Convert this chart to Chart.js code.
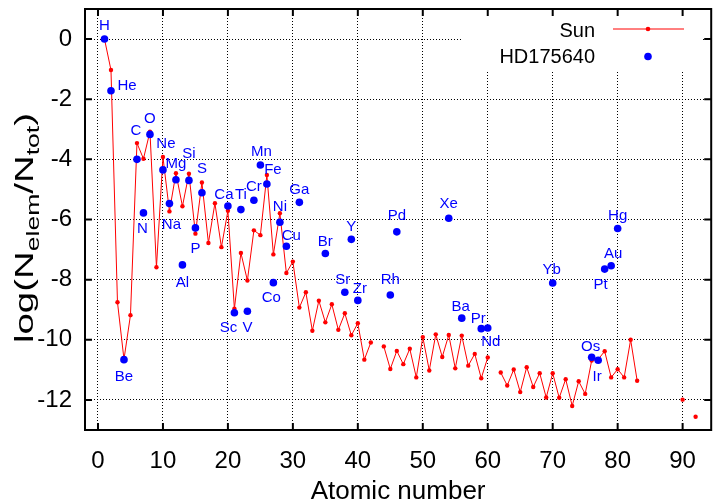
<!DOCTYPE html>
<html>
<head>
<meta charset="utf-8">
<script src="https://cdn.jsdelivr.net/npm/chart.js@4.4.1/dist/chart.umd.min.js"></script>
<style>
html,body{margin:0;padding:0;background:#fff;}
canvas{display:block;}
</style>
</head>
<body>
<canvas id="c" width="715" height="501"></canvas>
<script>
// ---- data ----
const sunZ = [1,2,3,4,5,6,7,8,9,10,11,12,13,14,15,16,17,18,19,20,21,22,23,24,25,26,27,28,29,30,
  31,32,33,34,35,36,37,38,39,40,41,42,43,44,45,46,47,48,49,50,51,52,53,54,55,56,57,58,59,60,
  61,62,63,64,65,66,67,68,69,70,71,72,73,74,75,76,77,78,79,80,81,82,83,84,90,91,92];
const sunLog = [0.00,-1.03,-8.75,-10.65,-9.18,-3.46,-3.98,-3.08,-7.59,-3.92,-5.73,-4.46,-5.56,-4.48,-6.47,-4.77,-6.78,-5.46,-6.92,-5.71,
  -8.97,-7.11,-8.03,-6.36,-6.52,-4.52,-7.16,-5.79,-7.78,-7.40,
  -8.93,-8.42,-9.70,-8.70,-9.42,-8.82,-9.67,-9.12,-9.85,-9.45,-10.66,-10.09,null,-10.22,-10.97,-10.37,-10.81,-10.30,-11.25,-9.91,
  -11.02,-9.82,-10.57,-9.84,-10.95,-9.86,-10.86,-10.47,-11.28,-10.59,
  null,-11.09,-11.52,-10.99,-11.74,-10.91,-11.57,-11.11,-11.92,-11.11,-11.93,-11.31,-12.20,-11.38,-11.80,-10.69,-10.65,-10.38,-11.25,-10.98,
  -11.25,-10.00,-11.36,null,-11.99,null,-12.56];

const starElem = ['H','He','Be','C','N','O','Ne','Na','Mg','Al','Si','P','S','Ca','Sc','Ti','V','Cr','Mn','Fe',
  'Co','Ni','Cu','Ga','Br','Sr','Y','Zr','Rh','Pd','Xe','Ba','Pr','Nd','Yb','Os','Ir','Pt','Au','Hg'];
const starZ = [1,2,4,6,7,8,10,11,12,13,14,15,16,20,21,22,23,24,25,26,
  27,28,29,31,35,38,39,40,45,46,54,56,59,60,70,76,77,78,79,80];
const starLog = [0.00,-1.72,-10.66,-4.00,-5.78,-3.17,-4.35,-5.47,-4.68,-7.51,-4.70,-6.28,-5.11,-5.55,-9.10,-5.67,-9.05,-5.36,-4.19,-4.82,
  -8.10,-6.09,-6.89,-5.43,-7.13,-8.42,-6.66,-8.69,-8.51,-6.41,-5.96,-9.28,-9.63,-9.61,-8.11,-10.58,-10.68,-7.65,-7.54,-6.30];

const xTicks = [0,10,20,30,40,50,60,70,80,90];
const yTicks = [-12,-10,-8,-6,-4,-2,0];
const seriesNames = ['Sun','HD175640'];
const xTitle = 'Atomic number';

// ---- label placement (pixel offsets from each point, style only) ----
const labelOffset = {
  H:[0,-14], He:[16,-6], Be:[0,16], C:[-1,-30], N:[-1,15], O:[0,-17], Ne:[3,-27], Na:[2,20], Mg:[0,-17],
  Al:[0,17], Si:[0,-28], P:[0,20], S:[0,-25], Ca:[-4,-12], Sc:[-6,14], Ti:[0,-16], V:[0,15], Cr:[0,-15],
  Mn:[1,-14], Fe:[6,-15], Co:[-2,14], Ni:[0,-17], Cu:[5,-12], Ga:[0,-14], Br:[0,-13], Sr:[-2,-14], Y:[0,-14],
  Zr:[2,-13], Rh:[0,-16], Pd:[0,-17], Xe:[0,-16], Ba:[-1,-13], Pr:[-3,-11], Nd:[3,13], Yb:[-1,-14],
  Os:[-1,-12], Ir:[-1,15], Pt:[-4,14], Au:[2,-13], Hg:[0,-14]
};

const RED = '#ff0000', BLUE = '#0000ff';
const FONT = '"Liberation Sans", Arial, sans-serif';

const sunData = sunZ.map((z,i)=>({x:z, y:sunLog[i]}));
const starData = starZ.map((z,i)=>({x:z, y:starLog[i]}));

function noPad(s){ s.paddingTop = 0; s.paddingBottom = 0; s.paddingLeft = 0; s.paddingRight = 0; }

const decor = {
  id:'decor',
  beforeDatasetsDraw(chart){
    const ctx = chart.ctx;
    ctx.save();
    ctx.fillStyle = '#fff';
    ctx.fillRect(463, 10, 239, 61);
    ctx.restore();
  },
  afterDraw(chart){
    const ctx = chart.ctx, a = chart.chartArea;
    const xs = chart.scales.x, ys = chart.scales.y;
    ctx.save();
    // element labels
    ctx.fillStyle = BLUE;
    ctx.font = '15px ' + FONT;
    ctx.textAlign = 'center';
    ctx.textBaseline = 'alphabetic';
    starElem.forEach((el,i)=>{
      const px = xs.getPixelForValue(starZ[i]);
      const py = ys.getPixelForValue(starLog[i]);
      const o = labelOffset[el] || [0,-14];
      ctx.fillText(el, px + o[0], py + o[1] + 5.4);
    });
    // frame
    ctx.strokeStyle = '#000';
    ctx.lineWidth = 2;
    ctx.strokeRect(a.left, a.top, a.right - a.left, a.bottom - a.top);
    // inward tick marks
    const tl = 7;
    ctx.beginPath();
    xTicks.forEach(v=>{
      const p = xs.getPixelForValue(v);
      ctx.moveTo(p, a.bottom); ctx.lineTo(p, a.bottom - tl);
      ctx.moveTo(p, a.top); ctx.lineTo(p, a.top + tl);
    });
    yTicks.forEach(v=>{
      const p = ys.getPixelForValue(v);
      ctx.moveTo(a.left, p); ctx.lineTo(a.left + tl, p);
      ctx.moveTo(a.right, p); ctx.lineTo(a.right - tl, p);
    });
    ctx.stroke();
    // legend
    ctx.font = '20px ' + FONT;
    ctx.fillStyle = '#000';
    ctx.textAlign = 'right';
    ctx.textBaseline = 'middle';
    ctx.fillText(seriesNames[0], 595, 31);
    ctx.fillText(seriesNames[1], 595, 57);
    ctx.strokeStyle = RED; ctx.lineWidth = 1;
    ctx.beginPath(); ctx.moveTo(613, 29); ctx.lineTo(684, 29); ctx.stroke();
    ctx.fillStyle = RED;
    ctx.beginPath(); ctx.arc(648, 29, 2.3, 0, Math.PI*2); ctx.fill();
    ctx.fillStyle = BLUE;
    ctx.beginPath(); ctx.arc(648, 56.5, 3.8, 0, Math.PI*2); ctx.fill();
    // x title
    ctx.fillStyle = '#000';
    ctx.font = '26px ' + FONT;
    ctx.textAlign = 'center';
    ctx.textBaseline = 'alphabetic';
    ctx.fillText(xTitle, (a.left + a.right)/2, 499);
    // y title with subscripts
    const parts = [['log(N',26,0],['elem',18,6],['/N',26,0],['tot',18,6],[')',26,0]];
    let total = 0;
    parts.forEach(p=>{ ctx.font = p[1]+'px '+FONT; p.push(ctx.measureText(p[0]).width); total += p[3]; });
    const stretch = 230 / total;
    ctx.translate(33, 228);
    ctx.rotate(-Math.PI/2);
    ctx.scale(stretch, 1);
    ctx.textAlign = 'left';
    let u = -total/2;
    parts.forEach(p=>{
      ctx.font = p[1]+'px '+FONT;
      ctx.fillText(p[0], u, p[2]);
      u += p[3];
    });
    ctx.restore();
  }
};

new Chart(document.getElementById('c'), {
  type: 'scatter',
  data: {
    datasets: [
      { label: seriesNames[1], data: starData, showLine:false, pointRadius:3.8, pointHoverRadius:3.8,
        backgroundColor: BLUE, borderColor: BLUE, pointBorderWidth:0, order:0 },
      { label: seriesNames[0], data: sunData, showLine:true, spanGaps:false, borderColor: RED, borderWidth:1,
        pointRadius:2.2, pointHoverRadius:2.2, backgroundColor: RED, pointBorderWidth:0, tension:0, order:1 }
    ]
  },
  options: {
    responsive:false, animation:false, devicePixelRatio:1,
    layout:{ padding:{ top:9, right:1, left:0, bottom:0 } },
    plugins:{ legend:{display:false}, tooltip:{enabled:false}, title:{display:false} },
    scales:{
      x:{
        type:'linear', min:-2, max:94.4,
        afterBuildTicks: s => { s.ticks = xTicks.map(v=>({value:v})); },
        afterFit: s => { s.height = 71; noPad(s); },
        grid:{ color:'#000', lineWidth:1, drawTicks:false },
        border:{ display:false, dash:[1,2] },
        ticks:{ color:'#000', font:{ family:FONT, size:24 }, padding:17, maxRotation:0, autoSkip:false }
      },
      y:{
        type:'linear', min:-13, max:1,
        afterBuildTicks: s => { s.ticks = yTicks.map(v=>({value:v})); },
        afterFit: s => { s.width = 85; noPad(s); },
        grid:{ color:'#000', lineWidth:1, drawTicks:false },
        border:{ display:false, dash:[1,2] },
        ticks:{ color:'#000', font:{ family:FONT, size:24 }, padding:13, autoSkip:false }
      }
    }
  },
  plugins:[decor]
});
</script>
</body>
</html>
